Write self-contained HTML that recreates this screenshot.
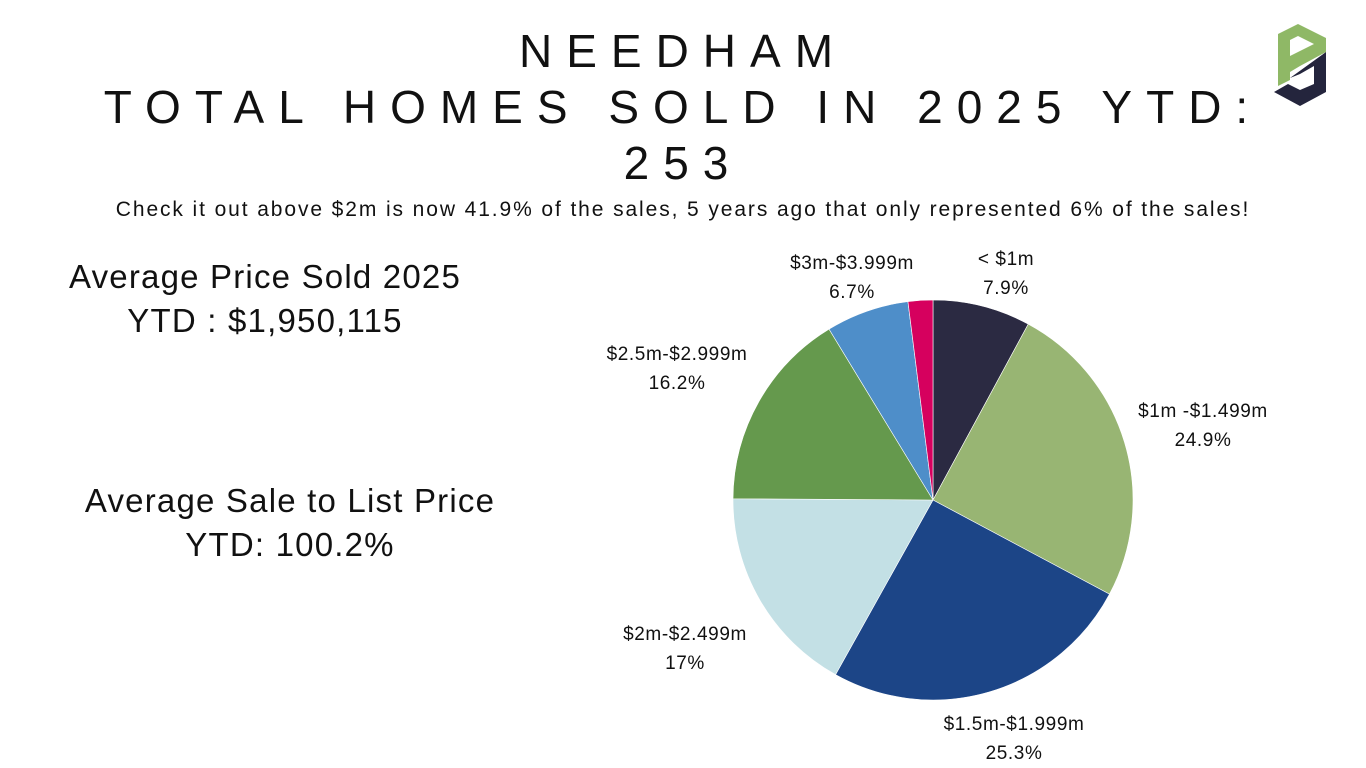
<!DOCTYPE html>
<html><head><meta charset="utf-8"><style>
body{margin:0;width:1366px;height:768px;background:#fff;overflow:hidden;font-family:"Liberation Sans",sans-serif;position:relative}
.t{position:absolute;left:0;width:1366px;text-align:center;color:#111}
.h{font-size:46px;letter-spacing:14px;line-height:54px}
.side{position:absolute;text-align:center;font-size:33px;letter-spacing:1.2px;color:#111;line-height:44px}
.lbl{font-size:19px;fill:#111;text-anchor:middle;letter-spacing:0.6px}
</style></head><body>
<div class="t h" style="top:24px">NEEDHAM</div>
<div class="t h" style="top:80px">TOTAL HOMES SOLD IN 2025 YTD:</div>
<div class="t h" style="top:136px">253</div>
<div class="t" style="top:198px;font-size:21px;letter-spacing:1.9px">Check it out above $2m is now 41.9% of the sales, 5 years ago that only represented 6% of the sales!</div>
<div class="side" style="left:15px;width:500px;top:255px">Average Price Sold 2025<br>YTD : $1,950,115</div>
<div class="side" style="left:40px;width:500px;top:479px">Average Sale to List Price<br>YTD: 100.2%</div>
<svg style="position:absolute;left:1270px;top:22px" width="60" height="85" viewBox="0 0 60 85">
<polygon points="8,12 28,2 56,16 56,30 30,44 20,50 20,58 8,64" fill="#8fb866"/>
<polygon points="20,18 28,14 44,22 36,26 20,34" fill="#fff"/>
<polygon points="56,30 56,70 30,84 4,70 18,62 30,68 44,62 44,44 30,52 20,56" fill="#24253d"/>
</svg>
<svg id="pie" style="position:absolute;left:0;top:0" width="1366" height="768"></svg>
<script>
const categories=["< $1m","$1m -$1.499m","$1.5m-$1.999m","$2m-$2.499m","$2.5m-$2.999m","$3m-$3.999m","$4m+"];
const values=[7.9,24.9,25.3,17,16.2,6.7,2.0];
const labels=["7.9%","24.9%","25.3%","17%","16.2%","6.7%",""];
const colors=["#2b2a42","#98b573","#1c4587","#c3e0e5","#65994d","#4e8ec9","#d6005e"];
const labelPos=[[1006,265],[1203,417],[1014,730],[685,640],[677,360],[852,269],null];
const svg=document.getElementById('pie');const NS='http://www.w3.org/2000/svg';
const cx=933,cy=500,r=200;const total=values.reduce((a,b)=>a+b,0);
let a0=0;
values.forEach((v,i)=>{
 const a1=a0+v/total*2*Math.PI;
 const x0=cx+r*Math.sin(a0),y0=cy-r*Math.cos(a0),x1=cx+r*Math.sin(a1),y1=cy-r*Math.cos(a1);
 const p=document.createElementNS(NS,'path');
 p.setAttribute('d',`M${cx},${cy}L${x0},${y0}A${r},${r} 0 ${a1-a0>Math.PI?1:0} 1 ${x1},${y1}Z`);
 p.setAttribute('fill',colors[i]);p.setAttribute('stroke','#fff');p.setAttribute('stroke-width','0.6');
 
 
 svg.appendChild(p);
 if(labelPos[i]){
  const t=document.createElementNS(NS,'text');t.setAttribute('class','lbl');
  t.setAttribute('x',labelPos[i][0]);t.setAttribute('y',labelPos[i][1]);
  
  
  const s1=document.createElementNS(NS,'tspan');s1.setAttribute('x',labelPos[i][0]);s1.textContent=categories[i];
  const s2=document.createElementNS(NS,'tspan');s2.setAttribute('x',labelPos[i][0]);s2.setAttribute('dy','29');s2.textContent=labels[i];
  t.appendChild(s1);t.appendChild(s2);svg.appendChild(t);
 }
 a0=a1;
});
</script>
</body></html>
